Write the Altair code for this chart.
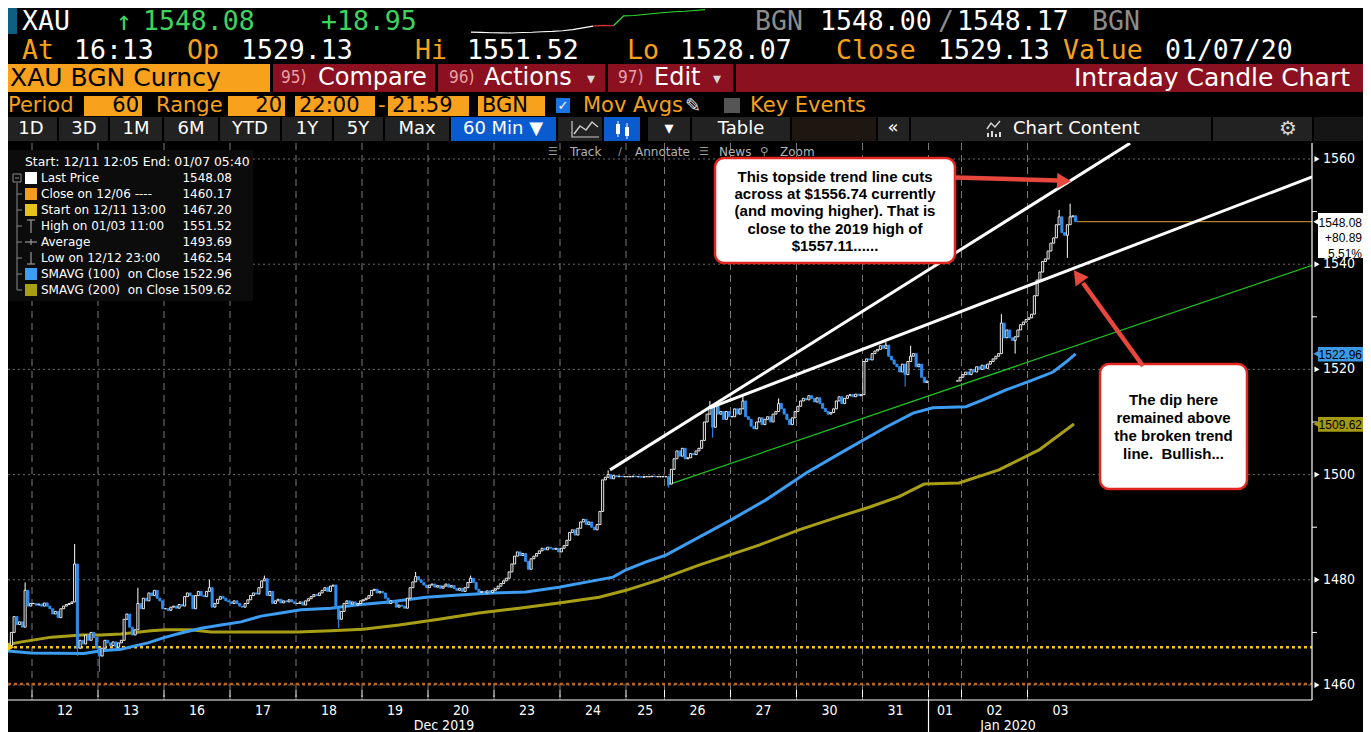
import altair as alt
import pandas as pd

# ------------------------------------------------------------------
# DATA
# ------------------------------------------------------------------
DAY_LABELS = ["11", "12", "13", "16", "17", "18", "19", "20", "23", "24",
              "25", "26", "27", "30", "31", "01", "02", "03"]
DAY_HOURS = [10, 24, 24, 24, 24, 24, 24, 24, 24, 24, 14, 24, 24, 24, 24, 12, 24, 24]
MONTH_LABELS = ["Dec 2019", "Jan 2020"]
MONTH_HOURS = [159.8, 364.9]
YEAR_BREAK_HOUR = [336]

OPEN_PRICE = 1467.20
C11 = [1466.8, 1467.5, 1470.0, 1473.0, 1471.5, 1472.0, 1471.0, 1478.0, 1475.0, 1475.5]
C12 = [1475.5, 1475.2, 1475.4, 1475.0, 1475.6, 1475.0, 1474.5, 1473.5, 1474.0, 1472.8,
       1474.5, 1475.0, 1475.3, 1475.5, 1475.8, 1483.0, 1467.0, 1468.5, 1467.8, 1469.5,
       1468.5, 1470.0, 1469.0, 1467.0]
C13 = [1465.5, 1467.0, 1468.5, 1468.0, 1467.5, 1468.2, 1467.2, 1468.0, 1468.5, 1472.5,
       1473.5, 1471.0, 1469.5, 1470.5, 1475.5, 1474.5, 1476.5, 1476.0, 1477.5, 1477.0,
       1478.0, 1476.5, 1476.0, 1474.5]
C16 = [1474.5, 1474.2, 1474.8, 1475.0, 1474.6, 1475.3, 1475.0, 1476.8, 1477.5, 1477.0,
       1474.5, 1477.0, 1477.8, 1477.0, 1476.8, 1477.8, 1478.5, 1474.8, 1475.5, 1476.3,
       1476.8, 1476.5, 1476.0, 1475.8]
C17 = [1475.5, 1476.0, 1475.5, 1475.0, 1474.8, 1475.5, 1476.2, 1477.0, 1477.5, 1477.3,
       1478.5, 1479.8, 1480.2, 1477.0, 1477.8, 1475.5, 1476.0, 1476.3, 1475.6, 1476.0,
       1475.8, 1476.2, 1475.8, 1475.5]
C18 = [1475.5, 1475.8, 1475.2, 1476.0, 1476.4, 1476.8, 1477.2, 1477.0, 1477.5, 1478.0,
       1478.5, 1477.8, 1478.8, 1479.0, 1474.5, 1472.5, 1474.0, 1475.5, 1476.0, 1475.4,
       1475.8, 1475.2, 1475.5, 1476.0]
C19 = [1476.2, 1476.5, 1477.0, 1478.0, 1478.2, 1477.5, 1477.8, 1477.5, 1476.5, 1475.5,
       1476.0, 1475.8, 1474.8, 1475.2, 1475.0, 1474.6, 1476.5, 1478.5, 1479.6, 1480.6,
       1480.0, 1479.5, 1479.0, 1478.5]
C20 = [1479.0, 1479.2, 1478.6, 1478.9, 1478.4, 1478.8, 1479.2, 1478.6, 1478.9, 1478.3,
       1478.0, 1478.4, 1477.8, 1478.5, 1479.5, 1480.3, 1479.5, 1478.2, 1477.6, 1477.8,
       1477.5, 1477.9, 1477.6, 1478.0]
C23 = [1478.3, 1478.8, 1479.3, 1479.8, 1480.3, 1481.5, 1483.0, 1484.5, 1485.3, 1484.6,
       1485.0, 1483.5, 1482.0, 1484.0, 1484.5, 1485.0, 1485.5, 1486.0, 1485.7, 1486.2,
       1486.0, 1485.8, 1486.0, 1485.3]
C24 = [1486.0, 1486.5, 1487.5, 1489.0, 1489.5, 1488.5, 1489.8, 1491.0, 1491.5, 1490.5,
       1491.0, 1490.0, 1489.5, 1490.5, 1493.0, 1499.0, 1499.5, 1500.0, 1499.2, 1499.8,
       1499.6, 1499.7, 1499.6, 1499.6]
C25 = [1499.6, 1499.6, 1499.7, 1499.6, 1499.6, 1499.5, 1499.6, 1499.6, 1499.6, 1499.7,
       1499.6, 1499.6, 1499.6, 1499.6]
C26 = [1499.6, 1498.2, 1501.0, 1503.0, 1504.5, 1503.5, 1505.0, 1503.0, 1503.2, 1504.0,
       1503.8, 1504.5, 1505.0, 1506.5, 1510.0, 1511.5, 1513.0, 1509.0, 1513.0, 1511.5,
       1512.0, 1510.5, 1512.0, 1511.0]
C27 = [1511.0, 1512.5, 1511.5, 1512.5, 1514.0, 1511.0, 1510.5, 1509.2, 1508.7, 1510.0,
       1510.8, 1509.5, 1510.5, 1511.0, 1510.0, 1511.5, 1512.0, 1513.5, 1512.5, 1511.5,
       1510.5, 1509.5, 1510.8, 1512.0]
C30 = [1513.0, 1514.0, 1514.5, 1514.2, 1515.0, 1514.5, 1513.8, 1514.6, 1513.5, 1512.6,
       1512.0, 1511.5, 1511.8, 1512.5, 1514.0, 1514.8, 1513.5, 1514.5, 1515.0, 1515.2,
       1514.8, 1515.3, 1515.0, 1515.2]
C31 = [1521.5, 1522.0, 1521.8, 1523.0, 1523.5, 1523.8, 1524.5, 1524.0, 1524.6, 1522.5,
       1521.8, 1521.0, 1520.5, 1519.5, 1521.0, 1519.0, 1521.5, 1522.5, 1523.0, 1520.5,
       1521.0, 1518.5, 1517.5, 1517.8]
C01 = [None, None, None, None, None, None, None, None, None, None, 1517.8, 1518.5]
C02 = [1519.0, 1519.5, 1519.0, 1520.0, 1519.5, 1520.5, 1520.0, 1520.8, 1520.2, 1521.0,
       1521.5, 1522.0, 1522.5, 1523.0, 1528.8, 1526.0, 1527.5, 1526.0, 1525.5, 1526.2,
       1527.5, 1528.5, 1529.0, 1529.5]
C03 = [1529.8, 1530.5, 1534.0, 1537.0, 1538.5, 1540.5, 1541.0, 1542.5, 1544.0, 1545.0,
       1547.5, 1549.0, 1546.0, 1545.5, 1547.5, 1549.0, 1549.2, 1548.08]
CLOSES = [C11, C12, C13, C16, C17, C18, C19, C20, C23, C24, C25, C26, C27, C30, C31,
          C01, C02, C03]

HIGH_HOURS = [7, 25, 48, 74, 94, 149, 169, 219, 256, 268, 281, 320, 329, 362, 383, 387]
HIGH_VALUES = [1479.5, 1486.8, 1478.5, 1480.0, 1480.8, 1481.5, 1480.8, 1500.8, 1514.0,
               1515.0, 1514.5, 1525.2, 1524.5, 1530.5, 1550.3, 1551.52]
LOW_HOURS = [26, 34, 121, 241, 257, 327, 367, 386]
LOW_VALUES = [1465.5, 1462.54, 1470.8, 1497.5, 1507.0, 1516.7, 1523.0, 1541.2]

SMA100_HOURS = [0, 9.6, 28.9, 35.1, 42.4, 47.1, 52.2, 58.0, 64.2, 71.5, 78.7, 86.0, 93.3,
                100.5, 107.8, 118.7, 127.8, 139.8, 153.3, 165.3, 177.6, 189.6, 201.6,
                214.0, 221.3, 226.0, 233.3, 240.5, 264.2, 276.9, 291.5, 306.0, 320.5,
                330.4, 337.6, 349.6, 355.8, 364.2, 374.0, 381.3, 386.0, 389.5]
SMA100_VALUES = [1466.5, 1466.1, 1466.0, 1466.5, 1466.8, 1467.4, 1468.0, 1469.0, 1469.9,
                 1470.8, 1471.4, 1472.0, 1473.1, 1473.7, 1474.3, 1474.6, 1475.2, 1475.8,
                 1476.7, 1477.1, 1477.5, 1477.7, 1478.6, 1479.8, 1480.5, 1481.9, 1483.4,
                 1484.7, 1491.4, 1495.2, 1500.3, 1504.7, 1509.0, 1511.7, 1512.7, 1512.9,
                 1514.2, 1516.1, 1518.0, 1519.5, 1521.4, 1522.96]
SMA200_HOURS = [0, 6.2, 17.1, 28.0, 35.1, 42.4, 53.3, 58.7, 67.8, 75.1, 89.6, 106.7, 118.7,
                130.4, 143.5, 158.0, 172.5, 187.1, 201.6, 216.2, 226.0, 238.0, 252.5,
                274.4, 288.9, 303.5, 314.4, 325.3, 334.4, 347.1, 361.6, 376.2, 388.9]
SMA200_VALUES = [1467.6, 1468.2, 1469.1, 1469.5, 1469.5, 1469.7, 1470.3, 1470.5, 1470.5,
                 1470.1, 1470.1, 1470.1, 1470.3, 1470.6, 1471.4, 1472.5, 1473.7, 1474.6,
                 1475.6, 1476.7, 1478.0, 1480.0, 1482.8, 1486.6, 1489.5, 1492.0, 1493.8,
                 1495.8, 1498.2, 1498.4, 1500.9, 1504.7, 1509.62]

TREND_STEEP_HOURS = [220.2, 409.3]
TREND_STEEP_VALUES = [1500.9, 1563.0]
TREND_UPPER_HOURS = [256.5, 475.5]
TREND_UPPER_VALUES = [1512.7, 1556.6]
TREND_GREEN_HOURS = [240.9, 475.5]
TREND_GREEN_VALUES = [1498.0, 1539.8]

Y_TICKS = [1460, 1480, 1500, 1520, 1540, 1560]
Y_MINOR = [1470, 1490, 1510, 1530, 1550]
LAST_PRICE = 1548.08
LAST_HOUR = 390
CHANGE_TXT = "+80.89"
CHANGE_PCT_TXT = "5.51%"
PREV_CLOSE = 1460.17
START_PRICE = 1467.20
SMA100_LAST = 1522.96
SMA200_LAST = 1509.62

SPARK_VALUES = [1530.5, 1530.3, 1530.0, 1529.9, 1529.8, 1530.2, 1530.4, 1530.8, 1531.1,
                1531.6, 1532.5, 1533.9, 1535.3, 1535.9, 1535.6, 1543.5, 1543.8, 1544.6,
                1545.4, 1546.2, 1546.8, 1547.2, 1547.8, 1548.5]

NB = "\u00a0"
LEGEND_HEAD = "Start: 12/11 12:05 End: 01/07 05:40"
LEGEND_LABELS = ["Last Price", "Close on 12/06 ----", "Start on 12/11 13:00",
                 "High on 01/03 11:00", "Average", "Low on 12/12 23:00",
                 "SMAVG (100)" + NB + NB + "on Close", "SMAVG (200)" + NB + NB + "on Close"]
LEGEND_VALUES = ["1548.08", "1460.17", "1467.20", "1551.52", "1493.69", "1462.54",
                 "1522.96", "1509.62"]

NOTE_1 = ["This topside trend line cuts", "across at $1556.74 currently",
          "(and moving higher). That is", "close to the 2019 high of", "$1557.11......"]
NOTE_2 = ["The dip here", "remained above", "the broken trend", "line." + NB + NB + "Bullish..."]

# ------------------------------------------------------------------
# layout helpers
# ------------------------------------------------------------------
W, H = 1304, 557
XDOM = [1.27, 475.45]
YDOM = [1457.15, 1563.04]

F_UI = "DejaVu Sans"
F_MONO = "DejaVu Sans Mono"
F_NARROW = "Liberation Sans Narrow, DejaVu Sans Condensed, sans-serif"
F_TAG = "Liberation Sans, Arial, sans-serif"
F_NOTE = "Liberation Sans, Arial, sans-serif"

ORANGE = "#f7a11c"
GREEN = "#3fd35c"
BLUE = "#3d9df2"
OLIVE = "#a89f17"
CANDLE_DOWN = "#2f8ff0"
RED_BOX = "#8b1020"
ARROW_RED = "#e8473d"


def PX(x):
    return x - 8


def PY(y):
    return y - 143


def X(f):
    return alt.X(f, type="quantitative",
                 scale=alt.Scale(domain=XDOM, nice=False, zero=False), axis=None)


def Y(f):
    return alt.Y(f, type="quantitative",
                 scale=alt.Scale(domain=YDOM, nice=False, zero=False), axis=None)


def PXE(f):
    return alt.X(f, type="quantitative", scale=None, axis=None)


def PYE(f):
    return alt.Y(f, type="quantitative", scale=None, axis=None)


def texts(items, color, size, font=F_UI, align="left", weight="normal"):
    df = pd.DataFrame({"t": [i[0] for i in items],
                       "x": [PX(i[1]) for i in items],
                       "y": [PY(i[2]) for i in items]})
    return alt.Chart(df).mark_text(color=color, fontSize=size, font=font, align=align,
                                   baseline="middle", fontWeight=weight).encode(
        x=PXE("x"), y=PYE("y"), text="t:N")


def rects(items, fill, stroke=None, sw=0.0, radius=0):
    df = pd.DataFrame({"x": [PX(i[0]) for i in items], "x2": [PX(i[2]) for i in items],
                       "y": [PY(i[1]) for i in items], "y2": [PY(i[3]) for i in items]})
    kw = {"fill": fill}
    if stroke:
        kw["stroke"] = stroke
        kw["strokeWidth"] = sw
    if radius:
        kw["cornerRadius"] = radius
    return alt.Chart(df).mark_rect(**kw).encode(x=PXE("x"), x2="x2:Q", y=PYE("y"), y2="y2:Q")


def segs(items, color, width, dash=None):
    df = pd.DataFrame({"x": [PX(i[0]) for i in items], "x2": [PX(i[2]) for i in items],
                       "y": [PY(i[1]) for i in items], "y2": [PY(i[3]) for i in items]})
    kw = {"color": color, "strokeWidth": width}
    if dash:
        kw["strokeDash"] = dash
    return alt.Chart(df).mark_rule(**kw).encode(x=PXE("x"), x2="x2:Q", y=PYE("y"), y2="y2:Q")


def poly(points, color, width):
    df = pd.DataFrame({"x": [PX(p[0]) for p in points], "y": [PY(p[1]) for p in points],
                       "o": list(range(len(points)))})
    return alt.Chart(df).mark_line(color=color, strokeWidth=width).encode(
        x=PXE("x"), y=PYE("y"), order="o:Q")


def syms(items, shape, color, size, angle=0):
    df = pd.DataFrame({"x": [PX(i[0]) for i in items], "y": [PY(i[1]) for i in items]})
    return alt.Chart(df).mark_point(shape=shape, filled=True, color=color, size=size,
                                    angle=angle, opacity=1, strokeWidth=0).encode(
        x=PXE("x"), y=PYE("y"))


# ------------------------------------------------------------------
# candle table
# ------------------------------------------------------------------
hi_map = dict(zip(HIGH_HOURS, HIGH_VALUES))
lo_map = dict(zip(LOW_HOURS, LOW_VALUES))
rows = []
hour = 0
prev = OPEN_PRICE
day_starts, day_centers = [], []
for lab, n, closes in zip(DAY_LABELS, DAY_HOURS, CLOSES):
    day_starts.append(hour)
    day_centers.append(hour + n / 2)
    for i in range(n):
        if i < len(closes) and closes[i] is not None:
            c = closes[i]
            o = prev
            rows.append({"xa": hour + 0.12, "xb": hour + 0.88, "xm": hour + 0.5,
                         "top": max(o, c), "bot": min(o, c),
                         "hi": hi_map.get(hour, max(o, c)), "lo": lo_map.get(hour, min(o, c)),
                         "up": bool(c >= o)})
            prev = c
        hour += 1
candles = pd.DataFrame(rows)

layers = []

# ---------------- grid ----------------
layers.append(alt.Chart(pd.DataFrame({"v": Y_TICKS})).mark_rule(
    color="#6c6c6c", strokeWidth=1, strokeDash=[2, 3]).encode(
    y=Y("v"), x=alt.value(0), x2=alt.value(W)))
layers.append(alt.Chart(pd.DataFrame({"h": day_starts[1:]})).mark_rule(
    color="#7a7a7a", strokeWidth=1, strokeDash=[7, 5]).encode(
    x=X("h"), y=alt.value(0), y2=alt.value(H)))

# ---------------- reference lines ----------------
layers.append(alt.Chart(pd.DataFrame({"v": [PREV_CLOSE]})).mark_rule(
    color="#b8651c", strokeWidth=2.5, strokeDash=[3, 3]).encode(
    y=Y("v"), x=alt.value(0), x2=alt.value(W)))
layers.append(alt.Chart(pd.DataFrame({"v": [START_PRICE]})).mark_rule(
    color="#f2c318", strokeWidth=2.5, strokeDash=[3, 3]).encode(
    y=Y("v"), x=alt.value(0), x2=alt.value(W)))
layers.append(alt.Chart(pd.DataFrame({"h": [LAST_HOUR], "v": [LAST_PRICE]})).mark_rule(
    color="#e0a032", strokeWidth=1).encode(y=Y("v"), x=X("h"), x2=alt.value(W)))

# ---------------- legend panel ----------------
layers.append(rects([(8, 150, 253, 301)], "#0c0c0c"))

# ---------------- moving averages ----------------
layers.append(alt.Chart(pd.DataFrame({"h": SMA200_HOURS, "v": SMA200_VALUES})).mark_line(
    color=OLIVE, strokeWidth=3, clip=True).encode(x=X("h"), y=Y("v")))
layers.append(alt.Chart(pd.DataFrame({"h": SMA100_HOURS, "v": SMA100_VALUES})).mark_line(
    color=BLUE, strokeWidth=3, clip=True).encode(x=X("h"), y=Y("v")))

# ---------------- trend lines ----------------
layers.append(alt.Chart(pd.DataFrame({"h": TREND_GREEN_HOURS, "v": TREND_GREEN_VALUES})).mark_line(
    color="#1fc21f", strokeWidth=1.2, clip=True).encode(x=X("h"), y=Y("v")))


# ---------------- candles ----------------
def cond_col(a, b):
    return alt.condition("datum.up", alt.value(a), alt.value(b))


layers.append(alt.Chart(candles).mark_rule(strokeWidth=1, clip=True).encode(
    x=X("xm"), y=Y("lo"), y2="hi:Q", color=cond_col("#ffffff", CANDLE_DOWN)))
layers.append(alt.Chart(candles).mark_rect(strokeWidth=0.9, clip=True).encode(
    x=X("xa"), x2="xb:Q", y=Y("top"), y2="bot:Q",
    fill=cond_col("#000000", CANDLE_DOWN), stroke=cond_col("#ffffff", CANDLE_DOWN)))

layers.append(alt.Chart(pd.DataFrame({"h": TREND_STEEP_HOURS, "v": TREND_STEEP_VALUES})).mark_line(
    color="#ffffff", strokeWidth=3, clip=True).encode(x=X("h"), y=Y("v")))
layers.append(alt.Chart(pd.DataFrame({"h": TREND_UPPER_HOURS, "v": TREND_UPPER_VALUES})).mark_line(
    color="#ffffff", strokeWidth=3, clip=True).encode(x=X("h"), y=Y("v")))

# start marker
layers.append(alt.Chart(pd.DataFrame({"h": [XDOM[0] + 0.9], "v": [START_PRICE]})).mark_point(
    shape="triangle-right", filled=True, color="#f2c318", size=70, opacity=1).encode(
    x=X("h"), y=Y("v")))

# ---------------- axes ----------------
layers.append(alt.Chart(pd.DataFrame({"h": day_starts[1:]})).mark_rule(
    color="#ffffff", strokeWidth=1).encode(
    x=X("h"), y=alt.value(PY(690)), y2=alt.value(PY(697))))
layers.append(segs([(8, 700, 1312, 700), (1312, 143, 1312, 700)], "#ffffff", 1.2))
layers.append(alt.Chart(pd.DataFrame({"h": YEAR_BREAK_HOUR})).mark_rule(
    color="#ffffff", strokeWidth=1.2).encode(
    x=X("h"), y=alt.value(H), y2=alt.value(PY(732))))
layers.append(alt.Chart(pd.DataFrame({"h": day_centers[1:], "t": DAY_LABELS[1:]})).mark_text(
    color="#ffffff", fontSize=14, font=F_NARROW, baseline="middle").encode(
    x=X("h"), y=alt.value(PY(711)), text="t:N"))
layers.append(alt.Chart(pd.DataFrame({"h": MONTH_HOURS, "t": MONTH_LABELS})).mark_text(
    color="#ffffff", fontSize=14, font=F_NARROW, baseline="middle").encode(
    x=X("h"), y=alt.value(PY(726)), text="t:N"))

layers.append(alt.Chart(pd.DataFrame({"v": Y_MINOR})).mark_rule(
    color="#ffffff", strokeWidth=1).encode(y=Y("v"), x=alt.value(W), x2=alt.value(W + 5)))
layers.append(alt.Chart(pd.DataFrame({"v": Y_TICKS})).mark_point(
    shape="triangle-right", filled=True, color="#ffffff", size=35, opacity=1).encode(
    y=Y("v"), x=alt.value(W + 5)))
layers.append(alt.Chart(pd.DataFrame({"v": Y_TICKS, "t": [str(v) for v in Y_TICKS]})).mark_text(
    color="#ffffff", fontSize=14, font=F_NARROW, align="left", baseline="middle").encode(
    y=Y("v"), x=alt.value(W + 11), text="t:N"))


# ---------------- price tags on the right ----------------
def tag(value, up, down, fill):
    df = pd.DataFrame({"v": [value], "a": [value + up], "b": [value - down]})
    box = alt.Chart(df).mark_rect(fill=fill).encode(
        y=Y("a"), y2="b:Q", x=alt.value(W + 6), x2=alt.value(W + 51))
    tri = alt.Chart(df).mark_point(shape="triangle-left", filled=True, color=fill,
                                   size=70, opacity=1).encode(y=Y("v"), x=alt.value(W + 5))
    return [box, tri]


layers += tag(LAST_PRICE, 1.65, 6.9, "#ffffff")
layers += tag(SMA100_LAST, 1.3, 1.45, "#3c99e6")
layers += tag(SMA200_LAST, 1.35, 1.45, "#a49a12")
for txt, dy in [(f"{LAST_PRICE:.2f}", 1), (CHANGE_TXT, 16.5), (CHANGE_PCT_TXT, 32)]:
    layers.append(alt.Chart(pd.DataFrame({"v": [LAST_PRICE], "t": [txt]})).mark_text(
        color="#000000", fontSize=12, font=F_TAG, align="right", baseline="middle",
        dy=dy).encode(y=Y("v"), x=alt.value(W + 50), text="t:N"))
for val in [SMA100_LAST, SMA200_LAST]:
    layers.append(alt.Chart(pd.DataFrame({"v": [val], "t": [f"{val:.2f}"]})).mark_text(
        color="#000000", fontSize=12, font=F_TAG, align="right", baseline="middle",
        dy=1).encode(y=Y("v"), x=alt.value(W + 50), text="t:N"))

# ---------------- legend content ----------------
layers.append(texts([(LEGEND_HEAD, 25, 162)], "#ffffff", 12.4))
ly = [178 + 16 * k for k in range(8)]
layers.append(texts([(LEGEND_LABELS[k], 41, ly[k]) for k in range(8)], "#ffffff", 12))
layers.append(texts([(LEGEND_VALUES[k], 232, ly[k]) for k in range(8)], "#ffffff", 12,
                    align="right"))
for k, col in [(0, "#ffffff"), (1, "#f39c1e"), (2, "#e8c21c"), (6, BLUE), (7, OLIVE)]:
    layers.append(rects([(25, ly[k] - 6, 37, ly[k] + 6)], col))
layers.append(segs([(17, 183, 17, 290)] + [(17, ly[k], 22, ly[k]) for k in range(1, 8)],
                   "#8a8a8a", 1))
layers.append(rects([(13, 174, 21, 182)], "#0c0c0c", stroke="#8a8a8a", sw=1))
layers.append(segs([(15, 178, 19, 178)], "#8a8a8a", 1))
layers.append(segs([(31, 220, 31, 233), (27, 220, 35, 220), (25, 242, 37, 242),
                    (31, 239, 31, 245), (31, 252, 31, 264), (27, 264, 35, 264)],
                   "#9a9a9a", 1.2))

# ---------------- annotation boxes & arrows ----------------
layers.append(rects([(715, 158, 955, 263)], "#ffffff", stroke="#e3261f", sw=2.5, radius=9))
layers.append(rects([(1100, 364, 1247, 489)], "#ffffff", stroke="#e3261f", sw=2.5, radius=9))
layers.append(texts([(NOTE_1[k], 835, 176.5 + 17.4 * k) for k in range(5)], "#000000", 15,
                    font=F_NOTE, align="center", weight="bold"))
layers.append(texts([(NOTE_2[k], 1173.5, 399.5 + 18.2 * k) for k in range(4)], "#000000", 15,
                    font=F_NOTE, align="center", weight="bold"))
layers.append(segs([(955, 177.5, 1058, 180.5), (1143, 366, 1083, 283)], ARROW_RED, 4.5))
layers.append(syms([(1064, 181)], "triangle-right", ARROW_RED, 260, angle=2))
layers.append(syms([(1078, 276)], "triangle-up", ARROW_RED, 260, angle=324))

# ---------------- header row 1 ----------------
layers.append(rects([(5, 8, 17, 34)], "#0f6080"))
layers.append(texts([("XAU", 22, 22)], "#ffffff", 26.5, font=F_MONO))
layers.append(texts([("↑", 116, 22), ("1548.08", 143, 22), ("+18.95", 321, 22)], GREEN,
                    26.5, font=F_MONO))
layers.append(texts([("BGN", 755, 22), ("/", 938, 22), ("BGN", 1092, 22)], "#8c8c8c",
                    26.5, font=F_MONO))
layers.append(texts([("1548.00", 820, 22), ("1548.17", 957, 22)], "#ffffff", 26.5,
                    font=F_MONO))
spark = pd.DataFrame({"i": list(range(len(SPARK_VALUES))), "v": SPARK_VALUES})
sx = alt.Scale(domain=[0, len(SPARK_VALUES) - 1], range=[PX(471), PX(705)], nice=False,
               zero=False)
sy = alt.Scale(domain=[1529, 1549], range=[PY(34), PY(9)], nice=False, zero=False)
for lo_i, hi_i, col in [(0, 12, "#ffffff"), (12, 14, "#e03030"), (14, 23, "#2ee02e")]:
    part = spark[(spark.i >= lo_i) & (spark.i <= hi_i)]
    layers.append(alt.Chart(part).mark_line(color=col, strokeWidth=1.2).encode(
        x=alt.X("i:Q", scale=sx, axis=None), y=alt.Y("v:Q", scale=sy, axis=None)))

# ---------------- header row 2 ----------------
layers.append(texts([("At", 22, 51), ("Op", 187, 51), ("Hi", 415, 51), ("Lo", 627, 51),
                     ("Close", 836, 51), ("Value", 1063, 51)], ORANGE, 26.5, font=F_MONO))
layers.append(texts([("16:13", 74, 51), ("1529.13", 241, 51), ("1551.52", 467, 51),
                     ("1528.07", 680, 51), ("1529.13", 938, 51), ("01/07/20", 1165, 51)],
                    "#ffffff", 26.5, font=F_MONO))

# ---------------- header row 3 ----------------
layers.append(rects([(5, 64, 270, 92)], ORANGE))
layers.append(rects([(273, 64, 435, 92), (438, 64, 605, 92), (608, 64, 733, 92),
                     (736, 64, 1363, 92)], RED_BOX))
layers.append(texts([("XAU BGN Curncy", 10, 78)], "#000000", 25))
layers.append(texts([("95)", 281, 78), ("96)", 449, 78), ("97)", 618, 78)], "#e9a0a7", 17,
                    font=F_NARROW))
layers.append(texts([("Compare", 318, 78), ("Actions", 484, 78), ("Edit", 654, 78)],
                    "#ffffff", 24))
layers.append(texts([("▾", 587, 79), ("▾", 713, 79)], "#d8d8d8", 16))
layers.append(texts([("Intraday Candle Chart", 1350, 78)], "#ffffff", 25, align="right"))

# ---------------- header row 4 ----------------
layers.append(rects([(84, 96, 142, 116), (228, 96, 285, 116), (295, 96, 375, 116),
                     (388, 96, 469, 116), (478, 96, 545, 116)], ORANGE))
layers.append(texts([("Period", 8, 106), ("Range", 156, 106), ("-", 378, 106),
                     ("Mov Avgs", 583, 106), ("Key Events", 750, 106)], ORANGE, 21))
layers.append(texts([("60", 139, 106), ("20", 282, 106)], "#000000", 21, align="right"))
layers.append(texts([("22:00", 299, 106), ("21:59", 392, 106), ("BGN", 482, 106)],
                    "#000000", 21))
layers.append(rects([(556, 98, 570, 113)], "#1b74e4"))
layers.append(texts([("✓", 563, 106)], "#ffffff", 13, align="center", weight="bold"))
layers.append(texts([("✎", 693, 106)], "#e0e0e0", 19, align="center"))
layers.append(rects([(724, 98, 740, 113)], "#555555"))

# ---------------- header row 5 (toolbar) ----------------
layers.append(rects([(4, 117, 57, 141), (59, 117, 108, 141), (110, 117, 162, 141),
                     (164, 117, 218, 141), (220, 117, 280, 141), (282, 117, 332, 141),
                     (334, 117, 383, 141), (385, 117, 449, 141), (558, 117, 602, 141),
                     (648, 117, 690, 141), (692, 117, 790, 141), (878, 117, 909, 141),
                     (911, 117, 1211, 141), (1213, 117, 1312, 141)], "#222222"))
layers.append(rects([(792, 117, 876, 141)], "#1d1611"))
layers.append(rects([(1314, 117, 1363, 141)], "#151515"))
layers.append(rects([(451, 117, 556, 141), (604, 117, 640, 141)], "#0b5bd0"))
layers.append(texts([("1D", 31, 129), ("3D", 84, 129), ("1M", 136, 129), ("6M", 191, 129),
                     ("YTD", 250, 129), ("1Y", 307, 129), ("5Y", 358, 129),
                     ("Max", 417, 129), ("60 Min ▼", 503, 129), ("▾", 669, 129),
                     ("Table", 741, 129), ("«", 893, 128)], "#ffffff", 18, align="center"))
layers.append(texts([("Chart Content", 1013, 129)], "#ffffff", 18))
layers.append(texts([("⚙", 1288, 129)], "#d8d8d8", 20, align="center"))
layers.append(poly([(572, 121), (572, 137), (599, 137)], "#c8c8c8", 1.2))
layers.append(poly([(574, 134), (580, 126), (586, 130), (592, 122), (598, 127)], "#c8c8c8",
                   1.5))
layers.append(segs([(618, 121, 618, 137), (627, 123, 627, 139)], "#ffffff", 1))
layers.append(rects([(616, 124, 620, 134), (625, 127, 629, 136)], "#ffffff"))
layers.append(poly([(987, 129), (991, 123), (995, 127), (1000, 121)], "#d8d8d8", 1.4))
layers.append(rects([(987, 133, 989, 137), (991, 131, 993, 137), (995, 134, 997, 137),
                     (999, 132, 1001, 137)], "#d8d8d8"))

# ---------------- chart tools strip ----------------
layers.append(texts([("☰", 553, 152), ("∕", 620, 152), ("☰", 704, 152), ("⚲", 764, 152)],
                    "#9a9a9a", 11, align="center"))
layers.append(texts([("Track", 570, 152), ("Annotate", 635, 152), ("News", 719, 152),
                     ("Zoom", 780, 152)], "#b4b4b4", 12))

chart = alt.layer(*layers).resolve_scale(x="independent", y="independent").properties(
    width=W, height=H, background="#000000",
    padding={"left": 0, "top": 135, "right": 51, "bottom": 32},
    autosize=alt.AutoSizeParams(type="none"),
).configure_view(stroke=None)

chart.save("out.html", embed_options={"renderer": "svg", "actions": False})
